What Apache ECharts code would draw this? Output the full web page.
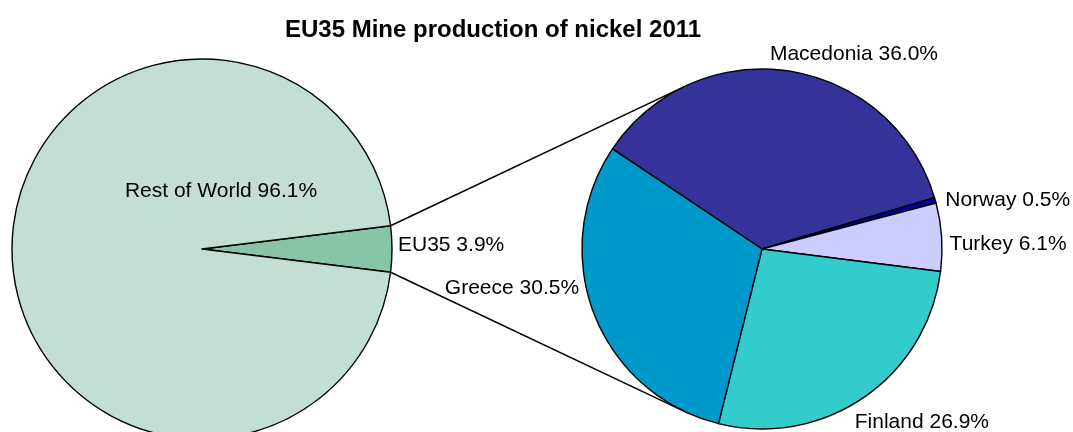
<!DOCTYPE html>
<html>
<head>
<meta charset="utf-8">
<script src="https://cdn.jsdelivr.net/npm/echarts@6/dist/echarts.min.js"></script>
<style>
html,body{margin:0;padding:0;background:#fff;}
#chart{width:1073px;height:432px;}
</style>
</head>
<body>
<div id="chart"></div>
<script>
// ---- data ----
var titleText = 'EU35 Mine production of nickel 2011';
var worldNames = ['EU35', 'Rest of World'];
var worldValues = [3.9, 96.1];
var eu35Names = ['Macedonia', 'Norway', 'Turkey', 'Finland', 'Greece'];
var eu35Values = [36.0, 0.5, 6.1, 26.9, 30.5];

// ---- styles ----
var FONT = '"Liberation Sans", Arial, sans-serif';
var worldColors = ['#88C4A8', '#C3DFD3'];
var eu35Colors = ['#333399', '#000099', '#CCCCFF', '#33CCCC', '#0099CC'];
var pie1 = {cx: 202, cy: 249, r: 190};
var pie2 = {cx: 762, cy: 249, r: 180};
var pie2Start = 146.2;
// label nudges (Excel-like placement), by data index
var nudge1 = [[6, -4], [117, -58]];
var nudge2 = [[-19, -17], [10, 0], [8, 7], [-9, 25], [-15, -26]];

function total(a){return a.reduce(function(s,v){return s+v;},0);}
var eu35Share = worldValues[0] / total(worldValues);
var halfAngle = eu35Share * 360 / 2;

function mkData(names, values, colors, insideName){
  return names.map(function(n, i){
    var d = {name: n, value: values[i], itemStyle: {color: colors[i]}};
    if (n === insideName) d.label = {position: 'inside'};
    return d;
  });
}

// connector lines: from the EU35 slice edges to tangent points on second pie
function connectors(){
  var a = halfAngle * Math.PI / 180;
  var res = [];
  [-1, 1].forEach(function(s){
    var px = pie1.cx + pie1.r * Math.cos(a);
    var py = pie1.cy + s * pie1.r * Math.sin(a);
    var dx = px - pie2.cx, dy = py - pie2.cy;
    var d = Math.sqrt(dx*dx + dy*dy);
    var base = Math.atan2(dy, dx);
    var t = Math.acos(pie2.r / d);
    var ang = base - s * t;
    var tx = pie2.cx + pie2.r * Math.cos(ang);
    var ty = pie2.cy + pie2.r * Math.sin(ang);
    res.push({type: 'line', shape: {x1: px, y1: py, x2: tx, y2: ty},
      style: {stroke: '#000', lineWidth: 1.5}, z: 10});
  });
  return res;
}

function fmt(p){ return p.name + ' ' + p.value.toFixed(1) + '%'; }

var labelBase = {show: true, position: 'outside', formatter: fmt, color: '#000',
  fontFamily: FONT, fontSize: 21, distanceToLabelLine: 0};
var lineBase = {show: false, length: 0, length2: 0};

var chart = echarts.init(document.getElementById('chart'), null, {renderer: 'canvas'});
chart.setOption({
  backgroundColor: '#fff',
  animation: false,
  title: {text: titleText, left: 280, top: 13,
    textStyle: {fontFamily: FONT, fontSize: 24, fontWeight: 'bold', color: '#000'}},
  graphic: connectors(),
  series: [
    {type: 'pie', center: [pie1.cx, pie1.cy], radius: pie1.r, startAngle: halfAngle,
      clockwise: true, avoidLabelOverlap: false, silent: true,
      itemStyle: {borderColor: '#000', borderWidth: 1.4},
      label: labelBase, labelLine: lineBase,
      labelLayout: function(p){ var n = nudge1[p.dataIndex] || [0,0]; return {dx: n[0], dy: n[1]}; },
      data: mkData(worldNames, worldValues, worldColors, 'Rest of World')},
    {type: 'pie', center: [pie2.cx, pie2.cy], radius: pie2.r, startAngle: pie2Start,
      clockwise: true, avoidLabelOverlap: false, silent: true,
      itemStyle: {borderColor: '#000', borderWidth: 1.4},
      label: labelBase, labelLine: lineBase,
      labelLayout: function(p){ var n = nudge2[p.dataIndex] || [0,0]; return {dx: n[0], dy: n[1]}; },
      data: mkData(eu35Names, eu35Values, eu35Colors, null)}
  ]
});
</script>
</body>
</html>
